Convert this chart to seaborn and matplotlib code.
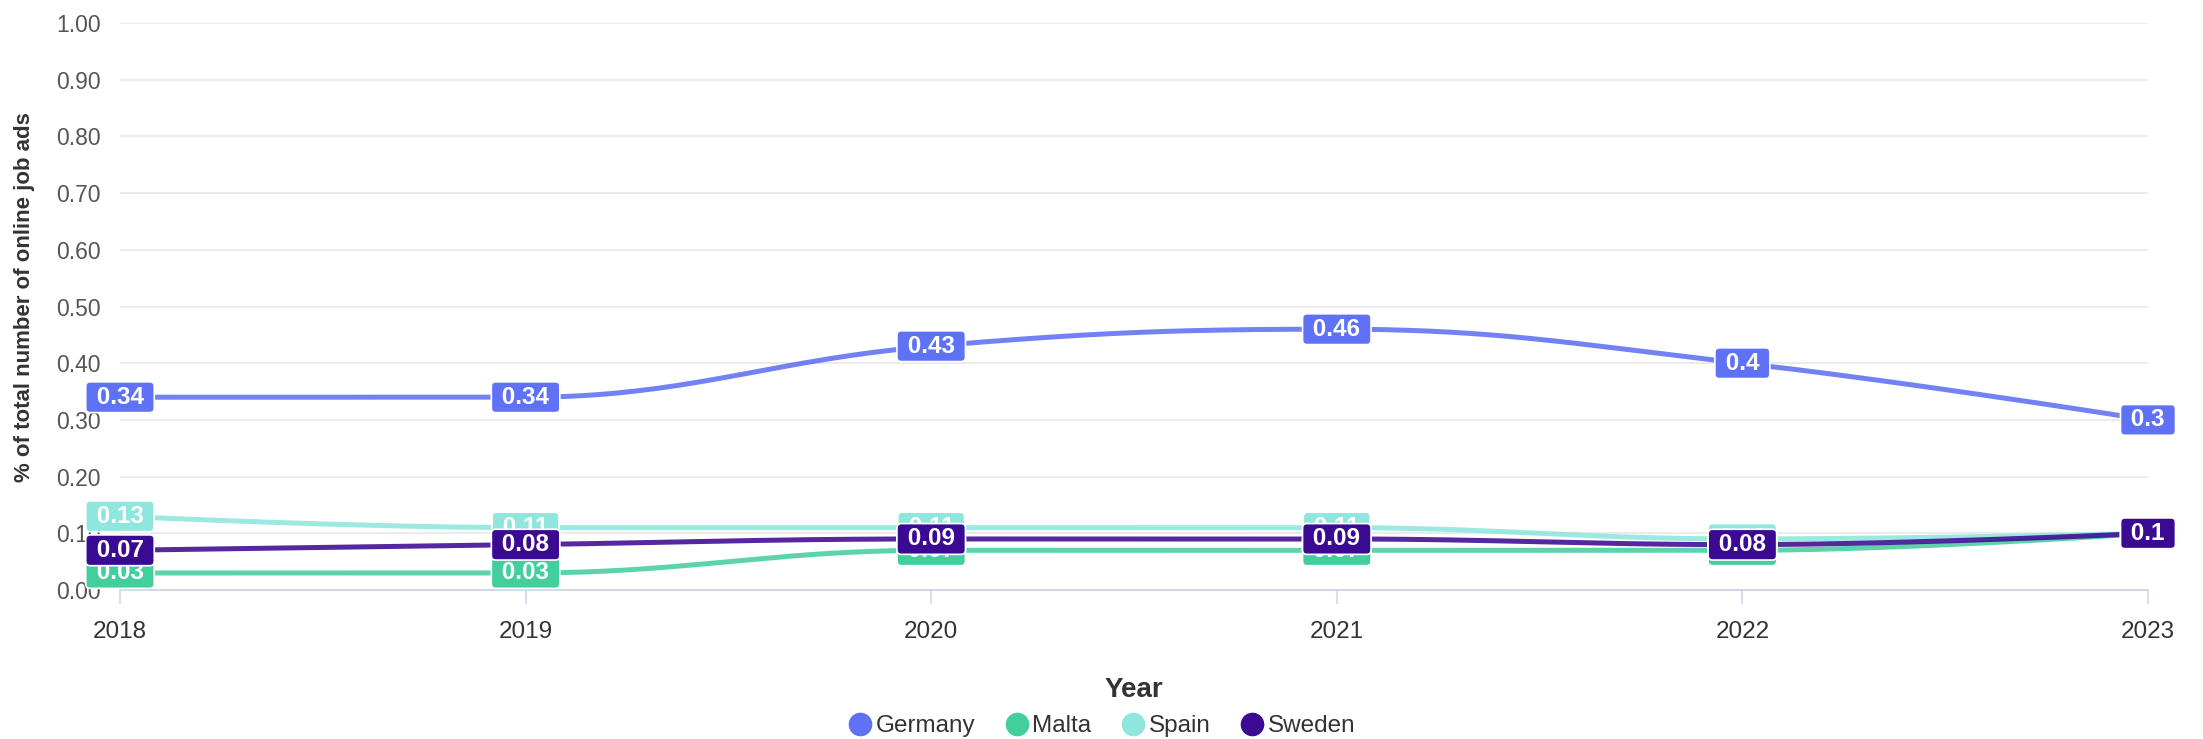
import numpy as np
import pandas as pd
import matplotlib
matplotlib.use('Agg')
import matplotlib.pyplot as plt
from matplotlib.lines import Line2D
import seaborn as sns

# data
years = [2018, 2019, 2020, 2021, 2022, 2023]
germany = [0.34, 0.34, 0.43, 0.46, 0.4, 0.3]
malta = [0.03, 0.03, 0.07, 0.07, 0.07, 0.1]
spain = [0.13, 0.11, 0.11, 0.11, 0.09, 0.1]
sweden = [0.07, 0.08, 0.09, 0.09, 0.08, 0.1]
countries = ['Germany', 'Malta', 'Spain', 'Sweden']
values = {'Germany': germany, 'Malta': malta, 'Spain': spain, 'Sweden': sweden}
y_ticks = [0.0, 0.1, 0.2, 0.3, 0.4, 0.5, 0.6, 0.7, 0.8, 0.9, 1.0]

colors = {'Germany': '#5f71f4', 'Malta': '#43cf9c', 'Spain': '#8fe6dd', 'Sweden': '#3b0a93'}


def spline(xs, ys, n=40):
    # highcharts style spline (smoothing 1.5)
    sm = 1.5
    left = [None] * len(xs)
    right = [None] * len(xs)
    for i in range(1, len(xs) - 1):
        px, py = xs[i], ys[i]
        lx, ly = xs[i - 1], ys[i - 1]
        nx, ny = xs[i + 1], ys[i + 1]
        lcx = (sm * px + lx) / (sm + 1)
        lcy = (sm * py + ly) / (sm + 1)
        rcx = (sm * px + nx) / (sm + 1)
        rcy = (sm * py + ny) / (sm + 1)
        corr = (rcy - lcy) * (rcx - px) / (rcx - lcx) + py - rcy
        lcy += corr
        rcy += corr
        if lcy > ly and lcy > py:
            lcy = max(ly, py)
            rcy = 2 * py - lcy
        elif lcy < ly and lcy < py:
            lcy = min(ly, py)
            rcy = 2 * py - lcy
        if rcy > ny and rcy > py:
            rcy = max(ny, py)
            lcy = 2 * py - rcy
        elif rcy < ny and rcy < py:
            rcy = min(ny, py)
            lcy = 2 * py - rcy
        left[i] = (lcx, lcy)
        right[i] = (rcx, rcy)
    t = np.linspace(0, 1, n)[1:]
    out_x, out_y = [xs[0]], [ys[0]]
    for i in range(1, len(xs)):
        p0 = (xs[i - 1], ys[i - 1])
        p3 = (xs[i], ys[i])
        p1 = right[i - 1] or p0
        p2 = left[i] or p3
        for k, out in ((0, out_x), (1, out_y)):
            out.extend((1 - t) ** 3 * p0[k] + 3 * (1 - t) ** 2 * t * p1[k]
                       + 3 * (1 - t) * t ** 2 * p2[k] + t ** 3 * p3[k])
    return out_x, out_y


rows = []
for c in countries:
    sx, sy = spline(years, values[c])
    rows.append(pd.DataFrame({'Year': sx, 'value': sy, 'country': c}))
df = pd.concat(rows, ignore_index=True)

sns.set_theme(style='white')
plt.rcParams['font.family'] = ['Liberation Sans', 'DejaVu Sans']

fig = plt.figure(figsize=(22.03, 7.39), dpi=100)
ax = fig.add_axes([120 / 2203, 1 - 590 / 739, 2028 / 2203, 567 / 739])

sns.lineplot(data=df, x='Year', y='value', hue='country', palette=colors,
             estimator=None, sort=False, legend=False, linewidth=3.6, alpha=0.88, ax=ax)

# data labels
for z, c in enumerate(countries):
    for x, v in zip(years, values[c]):
        ax.text(x, v, f' {v:g} ', ha='center', va='center', fontsize=17.5,
                fontweight='bold', color='white', zorder=5 + z, clip_on=False,
                bbox=dict(boxstyle='round,pad=0.16,rounding_size=0.18',
                          fc=colors[c], ec='white', lw=1.2))

ax.set_xlim(2018, 2023)
ax.set_ylim(0, 1)
ax.set_xticks(years)
ax.set_xticklabels([str(y) for y in years])
ax.set_yticks(y_ticks)
ax.set_yticklabels([f'{v:.2f}' for v in y_ticks])
ax.grid(axis='y', color='#e6e6e6', linewidth=1.1)
ax.grid(axis='x', visible=False)
for s in ['left', 'right', 'top']:
    ax.spines[s].set_visible(False)
ax.spines['bottom'].set_color('#ccd6eb')
ax.spines['bottom'].set_linewidth(1.3)
ax.tick_params(axis='y', length=0, pad=14, labelsize=16.5, labelcolor='#555555')
ax.tick_params(axis='x', bottom=True, length=10, width=1.1, color='#ccd6eb',
               direction='out', pad=12, labelsize=17.5, labelcolor='#333333')

ax.set_xlabel('Year', fontsize=20, fontweight='bold', color='#333333')
ax.xaxis.set_label_coords(0.5, (590 - 690) / 567)
ax.xaxis.label.set_va('center')
ax.set_ylabel('% of total number of online job ads', fontsize=16,
              fontweight='bold', color='#333333')
ax.yaxis.set_label_coords((25 - 120) / 2028, (590 - 297) / 567)
ax.yaxis.label.set_va('center')

handles = [Line2D([], [], marker='o', linestyle='', markersize=16,
                  markerfacecolor=colors[c], markeredgecolor=colors[c]) for c in countries]
fig.legend(handles, countries, loc='center', bbox_to_anchor=(0.5, 1 - 726 / 739),
           ncol=4, frameon=False, fontsize=17.5, handletextpad=0.15,
           columnspacing=1.2, handlelength=1.0, labelcolor='#333333')

fig.savefig('out.png', dpi=100)
